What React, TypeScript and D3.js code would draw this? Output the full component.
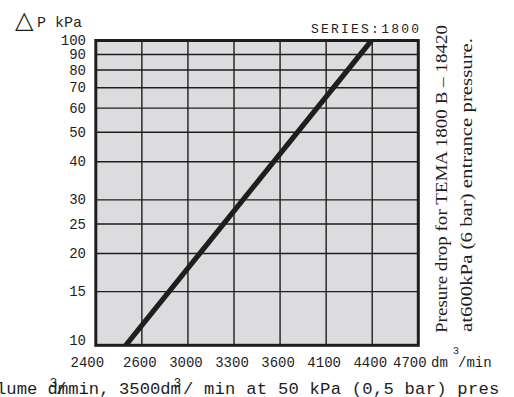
import React from "react";
import * as d3 from "d3";

const FLOW_TICKS = [2400, 2600, 3000, 3300, 3600, 4100, 4400, 4700];
const DP_TICKS = [10, 15, 20, 25, 30, 40, 50, 60, 70, 80, 90, 100];
const CURVE_FLOW = [2530, 4395];
const CURVE_DP = [10, 100];

const W = 514;
const H = 397;
const L = 95.8, R = 418.3, T = 40.5, B = 345.3;
const MONO = "'Liberation Mono', 'DejaVu Sans Mono', monospace";
const SERIF = "'Liberation Serif', 'DejaVu Serif', serif";
const INK = "#1e1e1e";

export default function App() {
  const xPoint = d3.scalePoint<number>().domain(FLOW_TICKS).range([L, R]);
  const xPos = FLOW_TICKS.map((v) => xPoint(v) as number);
  const x = d3.scaleLinear().domain(FLOW_TICKS).range(xPos);
  const y = d3.scaleLog().domain([10, 100]).range([B, T]);

  const pts = CURVE_FLOW.map((q, i) => [q, CURVE_DP[i]] as [number, number]);
  const line = d3
    .line<[number, number]>()
    .x((d) => x(d[0]))
    .y((d) => y(d[1]));

  const FS = 17.2;
  const P = FS * 0.6;
  const bottomY = 394;
  const x0 = -4;
  const x1 = 119;
  const x2 = 204;

  return (
    <svg
      width={W}
      height={H}
      style={{ position: "absolute", left: 0, top: 0, background: "#fff" }}
    >
      <defs>
        <clipPath id="plotClip">
          <rect x={L} y={T} width={R - L} height={B - T} />
        </clipPath>
      </defs>
      <rect x={L} y={T} width={R - L} height={B - T} fill="#dcdcdf" />
      {DP_TICKS.filter((v) => v !== 10 && v !== 100).map((v) => (
        <line key={"h" + v} x1={L} x2={R} y1={y(v)} y2={y(v)} stroke={INK} strokeWidth={1.4} />
      ))}
      {FLOW_TICKS.slice(1, -1).map((v) => (
        <line key={"v" + v} x1={xPoint(v)} x2={xPoint(v)} y1={T} y2={B} stroke={INK} strokeWidth={1.4} />
      ))}
      <path
        d={line(pts) || ""}
        fill="none"
        stroke={INK}
        strokeWidth={5.2}
        clipPath="url(#plotClip)"
      />
      <rect x={L} y={T} width={R - L} height={B - T} fill="none" stroke={INK} strokeWidth={3} />

      {/* y tick labels */}
      {DP_TICKS.map((v) => (
        <text
          key={"yl" + v}
          x={86}
          y={Math.min(y(v) + 4.6, B)}
          textAnchor="end"
          fontFamily={MONO}
          fontSize={14}
          fill={INK}
        >
          {v}
        </text>
      ))}
      {/* x tick labels */}
      {FLOW_TICKS.map((v, i) => (
        <text
          key={"xl" + v}
          x={(xPoint(v) as number) + (i === 0 || i === FLOW_TICKS.length - 1 ? -8.5 : -2)}
          y={367}
          textAnchor="middle"
          fontFamily={MONO}
          fontSize={14}
          fill={INK}
        >
          {v}
        </text>
      ))}
      <text x={431} y={367} fontFamily={MONO} fontSize={14} fill={INK}>dm</text>
      <text x={453} y={354} fontFamily={MONO} fontSize={10} fill={INK}>3</text>
      <text x={458} y={367} fontFamily={MONO} fontSize={14} fill={INK}>/min</text>

      {/* axis title */}
      <text x={15} y={27.5} fontFamily="'DejaVu Sans', sans-serif" fontSize={24} fill={INK}>△</text>
      <text x={37} y={27} fontFamily={MONO} fontSize={15} fill={INK}>P kPa</text>

      <text
        x={311}
        y={33}
        fontFamily={MONO}
        fontSize={13}
        fill={INK}
        textLength={108}
        lengthAdjust="spacing"
      >
        SERIES:1800
      </text>

      {/* rotated side notes */}
      <text
        transform="translate(447,333) rotate(-90)"
        fontFamily={SERIF}
        fontSize={17}
        fill={INK}
        textLength={308}
        lengthAdjust="spacingAndGlyphs"
      >
        Presure drop for TEMA 1800 B – 18420
      </text>
      <text
        transform="translate(472,332) rotate(-90)"
        fontFamily={SERIF}
        fontSize={17}
        fill={INK}
        textLength={294}
        lengthAdjust="spacingAndGlyphs"
      >
        at600kPa (6 bar) entrance pressure.
      </text>

      {/* bottom cut-off caption */}
      <g fontFamily={MONO} fontSize={FS} fill={INK}>
        <text x={x0} y={bottomY}>lume dm</text>
        <text x={x0 + 5 * P + 2} y={bottomY - 7} fontSize={13}>3</text>
        <text x={x0 + 6 * P - 2} y={bottomY}>/</text>
        <text x={x0 + 7 * P} y={bottomY}>min,</text>
        <text x={x1} y={bottomY}>3500dm</text>
        <text x={x1 + 5 * P + 3} y={bottomY - 7} fontSize={13}>3</text>
        <text x={x1 + 6 * P + 2} y={bottomY}>/</text>
        <text x={x2} y={bottomY} textLength={27.6 * 10.7} lengthAdjust="spacing">min at 50 kPa (0,5 bar) pres</text>
      </g>
    </svg>
  );
}
